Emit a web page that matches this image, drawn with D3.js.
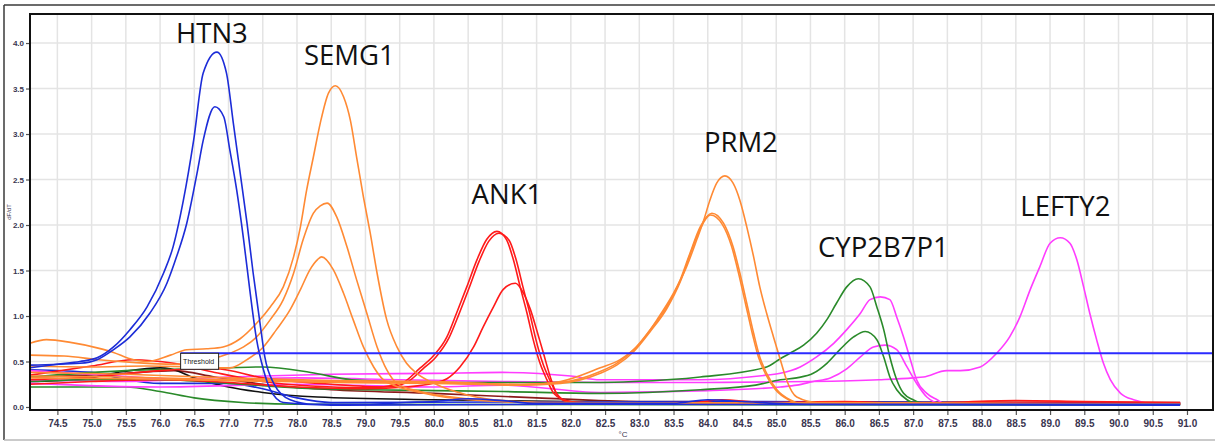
<!DOCTYPE html>
<html>
<head>
<meta charset="utf-8">
<script src="https://cdn.jsdelivr.net/npm/d3@7"></script>
<style>
  html, body { margin: 0; padding: 0; background: #fff; }
  svg { display: block; }
</style>
</head>
<body>
<svg id="chart" width="1215" height="441"></svg>
<script>
// ---- Melt-curve data: temperature (°C) / dF/dT pairs for each well ----
const xTickLabels = ["74.5","75.0","75.5","76.0","76.5","77.0","77.5","78.0","78.5","79.0","79.5","80.0","80.5","81.0","81.5","82.0","82.5","83.0","83.5","84.0","84.5","85.0","85.5","86.0","86.5","87.0","87.5","88.0","88.5","89.0","89.5","90.0","90.5","91.0"];
const yTickLabels = ["0.0","0.5","1.0","1.5","2.0","2.5","3.0","3.5","4.0"];
const thresholdValue = 0.59;

const geneNames = ["HTN3", "SEMG1", "ANK1", "PRM2", "CYP2B7P1", "LEFTY2"];

// HTN3 (blue)
const htn3A = [[74.1,0.43],[74.5,0.47],[74.83,0.50],[75.08,0.54],[75.32,0.66],[75.56,0.85],[75.81,1.10],[76.05,1.47],[76.19,1.76],[76.34,2.27],[76.49,2.93],[76.63,3.67],[76.83,3.90],[76.97,3.67],[77.07,3.12],[77.17,2.57],[77.27,2.02],[77.36,1.47],[77.46,0.92],[77.53,0.55],[77.66,0.26],[77.9,0.08],[78.24,0.03],[79.0,0.03],[79.6,0.05],[80.0,0.06],[80.5,0.09],[81.0,0.07],[81.5,0.04],[83.5,0.04],[84.0,0.08],[84.5,0.06],[85.5,0.03],[90.9,0.03]];
const htn3B = [[74.1,0.46],[74.83,0.48],[75.08,0.52],[75.32,0.63],[75.56,0.77],[75.85,1.03],[76.10,1.36],[76.24,1.65],[76.39,2.02],[76.54,2.57],[76.63,2.93],[76.80,3.30],[76.93,3.19],[77.02,2.82],[77.12,2.38],[77.22,1.84],[77.31,1.29],[77.41,0.74],[77.51,0.41],[77.61,0.19],[77.80,0.05],[78.5,0.02],[82.0,0.03],[90.9,0.02]];

// SEMG1 (orange)
const semg1A = [[74.1,0.70],[74.34,0.74],[74.69,0.71],[75.08,0.65],[75.32,0.60],[75.56,0.53],[75.81,0.50],[76.15,0.57],[76.39,0.63],[76.68,0.64],[76.92,0.66],[77.17,0.75],[77.41,0.92],[77.61,1.10],[77.80,1.32],[77.95,1.65],[78.05,1.98],[78.14,2.38],[78.24,2.75],[78.34,3.12],[78.46,3.45],[78.56,3.53],[78.68,3.41],[78.78,3.15],[78.87,2.75],[78.97,2.31],[79.07,1.91],[79.17,1.47],[79.31,0.96],[79.46,0.66],[79.60,0.48],[79.75,0.37],[80.0,0.26],[80.5,0.13],[81.0,0.07],[82.0,0.04],[90.9,0.03]];
const semg1B = [[74.1,0.57],[74.6,0.56],[75.1,0.52],[75.6,0.49],[76.2,0.47],[76.7,0.52],[77.02,0.59],[77.22,0.66],[77.41,0.77],[77.61,0.96],[77.80,1.18],[77.95,1.47],[78.09,1.84],[78.24,2.13],[78.34,2.21],[78.44,2.24],[78.58,2.09],[78.73,1.76],[78.87,1.40],[79.02,1.03],[79.17,0.66],[79.31,0.41],[79.46,0.26],[79.8,0.17],[80.5,0.09],[81.5,0.05],[90.9,0.03]];
const semg1C = [[74.1,0.45],[75.0,0.44],[75.8,0.45],[76.5,0.44],[77.02,0.43],[77.27,0.52],[77.51,0.66],[77.70,0.85],[77.90,1.07],[78.05,1.29],[78.19,1.51],[78.30,1.62],[78.36,1.65],[78.53,1.51],[78.68,1.25],[78.82,0.96],[78.97,0.66],[79.12,0.44],[79.26,0.30],[79.41,0.24],[79.8,0.16],[80.5,0.08],[81.5,0.05],[90.9,0.03]];

// ANK1 (red)
const ank1A = [[74.1,0.35],[75.0,0.45],[75.6,0.52],[76.2,0.48],[76.8,0.38],[77.5,0.28],[78.2,0.23],[79.0,0.21],[79.5,0.25],[79.80,0.43],[79.99,0.56],[80.19,0.77],[80.33,1.03],[80.48,1.32],[80.63,1.62],[80.77,1.84],[80.92,1.93],[81.06,1.84],[81.16,1.62],[81.26,1.32],[81.36,1.03],[81.45,0.74],[81.55,0.48],[81.65,0.30],[81.75,0.15],[81.89,0.08],[82.14,0.04],[83.8,0.05],[84.2,0.08],[84.8,0.05],[86.0,0.06],[87.0,0.04],[88.5,0.07],[89.5,0.06],[90.9,0.05]];
const ank1B = [[74.1,0.30],[75.0,0.33],[76.0,0.40],[76.8,0.42],[77.5,0.32],[78.5,0.25],[79.3,0.22],[79.6,0.27],[79.84,0.42],[80.03,0.55],[80.22,0.76],[80.36,1.01],[80.51,1.30],[80.66,1.60],[80.80,1.82],[80.95,1.91],[81.10,1.83],[81.20,1.62],[81.30,1.32],[81.40,1.03],[81.49,0.74],[81.59,0.48],[81.69,0.30],[81.79,0.15],[81.93,0.07],[82.2,0.04],[90.9,0.04]];
const ank1C = [[74.1,0.25],[75.0,0.28],[76.0,0.30],[77.0,0.27],[78.0,0.22],[79.0,0.20],[79.6,0.22],[79.99,0.26],[80.19,0.31],[80.38,0.44],[80.58,0.66],[80.72,0.88],[80.87,1.10],[81.01,1.29],[81.19,1.36],[81.31,1.25],[81.41,1.07],[81.50,0.85],[81.60,0.59],[81.70,0.33],[81.79,0.15],[81.94,0.06],[82.5,0.04],[90.9,0.04]];

// PRM2 (orange)
const prm2A = [[74.1,0.38],[75.5,0.36],[77.0,0.32],[78.5,0.29],[80.0,0.28],[80.4,0.27],[81.26,0.24],[81.85,0.28],[82.43,0.43],[82.72,0.52],[83.01,0.70],[83.26,0.96],[83.50,1.25],[83.69,1.54],[83.84,1.84],[83.94,2.05],[84.03,2.27],[84.13,2.46],[84.25,2.54],[84.37,2.46],[84.47,2.27],[84.57,1.98],[84.67,1.65],[84.76,1.32],[84.86,1.03],[84.96,0.77],[85.06,0.52],[85.15,0.30],[85.30,0.11],[85.6,0.05],[90.9,0.03]];
const prm2B = [[74.1,0.34],[75.5,0.33],[77.0,0.30],[78.5,0.28],[80.0,0.27],[81.26,0.25],[81.85,0.27],[82.43,0.39],[82.67,0.48],[82.92,0.63],[83.16,0.85],[83.40,1.10],[83.60,1.40],[83.74,1.69],[83.89,1.98],[84.06,2.13],[84.23,2.02],[84.37,1.76],[84.47,1.47],[84.57,1.14],[84.67,0.81],[84.76,0.55],[84.86,0.37],[85.01,0.19],[85.20,0.08],[85.35,0.04],[90.9,0.03]];
const prm2C = [[74.1,0.32],[75.5,0.31],[77.0,0.29],[78.5,0.27],[80.0,0.26],[81.26,0.24],[81.85,0.26],[82.43,0.37],[82.67,0.46],[82.92,0.61],[83.16,0.83],[83.40,1.08],[83.60,1.38],[83.74,1.67],[83.89,1.96],[84.04,2.11],[84.21,2.01],[84.35,1.76],[84.45,1.47],[84.55,1.14],[84.65,0.81],[84.74,0.55],[84.84,0.37],[84.99,0.19],[85.18,0.08],[85.33,0.04],[90.9,0.03]];

// CYP2B7P1 (green and magenta)
const cypGreenA = [[74.1,0.33],[75.5,0.40],[76.5,0.42],[77.5,0.44],[78.2,0.38],[78.8,0.30],[80.0,0.27],[81.0,0.27],[82.43,0.27],[82.92,0.28],[83.89,0.33],[84.86,0.44],[85.06,0.53],[85.20,0.59],[85.40,0.68],[85.59,0.81],[85.74,0.96],[85.88,1.14],[86.03,1.32],[86.20,1.41],[86.37,1.32],[86.47,1.10],[86.57,0.85],[86.66,0.55],[86.76,0.30],[86.86,0.15],[87.0,0.08],[87.15,0.04],[90.9,0.03]];
const cypGreenB = [[74.1,0.28],[75.0,0.30],[76.0,0.30],[77.0,0.26],[78.0,0.21],[79.0,0.19],[80.0,0.18],[81.0,0.17],[82.43,0.15],[83.89,0.19],[84.7,0.24],[85.06,0.30],[85.30,0.32],[85.54,0.37],[85.74,0.48],[85.93,0.63],[86.13,0.77],[86.30,0.83],[86.47,0.74],[86.57,0.55],[86.66,0.33],[86.76,0.19],[86.91,0.08],[87.05,0.04],[90.9,0.03]];
const cypMagentaA = [[74.1,0.30],[75.5,0.28],[77.0,0.33],[78.5,0.36],[80.0,0.37],[81.0,0.38],[82.0,0.34],[82.43,0.30],[83.89,0.30],[84.86,0.35],[85.06,0.37],[85.35,0.44],[85.59,0.55],[85.84,0.70],[86.03,0.85],[86.23,1.03],[86.37,1.18],[86.52,1.21],[86.66,1.18],[86.76,0.99],[86.86,0.77],[86.96,0.52],[87.05,0.30],[87.20,0.15],[87.35,0.08],[87.45,0.04],[90.9,0.03]];
const cypMagentaB = [[74.1,0.26],[76.0,0.22],[78.0,0.25],[80.0,0.22],[81.0,0.24],[82.43,0.16],[84.0,0.18],[85.06,0.22],[85.30,0.24],[85.54,0.28],[85.79,0.32],[86.03,0.42],[86.23,0.55],[86.42,0.66],[86.59,0.68],[86.76,0.63],[86.91,0.44],[87.05,0.26],[87.20,0.11],[87.40,0.04],[90.9,0.03]];

// LEFTY2 (magenta)
const lefty2 = [[74.1,0.40],[75.0,0.36],[76.5,0.30],[78.0,0.32],[79.5,0.30],[81.0,0.28],[82.5,0.27],[84.0,0.27],[85.5,0.28],[86.5,0.30],[87.0,0.32],[87.15,0.33],[87.49,0.40],[87.69,0.40],[87.98,0.44],[88.22,0.59],[88.41,0.77],[88.56,0.99],[88.71,1.29],[88.85,1.54],[89.0,1.80],[89.15,1.86],[89.29,1.80],[89.39,1.62],[89.49,1.32],[89.58,1.03],[89.68,0.74],[89.78,0.48],[89.88,0.30],[90.03,0.15],[90.22,0.08],[90.51,0.04],[90.9,0.04]];

// No-template / background wells
const ntcBlack = [[74.1,0.28],[74.8,0.30],[75.46,0.39],[76.0,0.43],[76.15,0.42],[76.5,0.32],[77.0,0.22],[77.5,0.16],[78.3,0.11],[80.0,0.08],[82.0,0.06],[86.0,0.05],[90.9,0.04]];
const ntcBrown = [[74.1,0.33],[75.5,0.37],[76.2,0.40],[76.8,0.33],[77.5,0.25],[78.5,0.19],[80.0,0.15],[81.5,0.10],[83.0,0.06],[90.9,0.05]];
const ntcGreen = [[74.1,0.22],[75.5,0.22],[76.0,0.17],[76.5,0.10],[77.2,0.05],[78.0,0.03],[90.9,0.02]];
const ntcBlue = [[74.1,0.41],[75.0,0.38],[75.5,0.30],[76.0,0.26],[77.0,0.26],[77.5,0.20],[78.0,0.10],[78.5,0.05],[84.0,0.06],[90.9,0.04]];

// Wells grouped by dye colour, drawn back to front
const seriesList = [
  { data: ntcGreen,    color: "#2a8a2a" },
  { data: ntcBrown,    color: "#8b1a1a" },
  { data: ntcBlack,    color: "#111111" },
  { data: ntcBlue,     color: "#1c2cd8" },
  { data: cypMagentaB, color: "#ff3cff" },
  { data: cypMagentaA, color: "#ff3cff" },
  { data: lefty2,      color: "#ff3cff" },
  { data: cypGreenB,   color: "#2a8a2a" },
  { data: cypGreenA,   color: "#2a8a2a" },
  { data: ank1C,       color: "#ff1a1a" },
  { data: ank1B,       color: "#ff1a1a" },
  { data: ank1A,       color: "#ff1a1a" },
  { data: prm2C,       color: "#ff8a34" },
  { data: prm2B,       color: "#ff8a34" },
  { data: prm2A,       color: "#ff8a34" },
  { data: semg1C,      color: "#ff8a34" },
  { data: semg1B,      color: "#ff8a34" },
  { data: semg1A,      color: "#ff8a34" },
  { data: htn3B,       color: "#1c2cd8" },
  { data: htn3A,       color: "#1c2cd8" }
];

// Gene labels anchored at the peak temperature / height of their tallest well
const geneLabelAnchors = [
  { name: geneNames[0], t: 76.83, v: 3.90 },
  { name: geneNames[1], t: 78.56, v: 3.53 },
  { name: geneNames[2], t: 80.92, v: 1.93 },
  { name: geneNames[3], t: 84.25, v: 2.54 },
  { name: geneNames[4], t: 86.20, v: 1.41 },
  { name: geneNames[5], t: 89.15, v: 1.86 }
];
const labelLift = [9, 21, 27, 24, 22, 22];
const labelShift = [-5, 14, 10, 16, 25, 5];

// ---- Layout ----
const svg = d3.select("#chart");
const plot = { left: 30, right: 1213, top: 14, bottom: 410 };

const x = d3.scaleLinear().domain([74.1, 91.38]).range([plot.left, plot.right]);
const y = d3.scaleLinear().domain([-0.033, 4.319]).range([plot.bottom, plot.top]);

// outer frame
svg.append("line").attr("x1", 4).attr("x2", 1215).attr("y1", 5).attr("y2", 5)
  .attr("stroke", "#3a3a3a").attr("stroke-width", 1.5);
svg.append("line").attr("x1", 4).attr("x2", 4).attr("y1", 5).attr("y2", 440)
  .attr("stroke", "#3a3a3a").attr("stroke-width", 1.5);
svg.append("line").attr("x1", 4).attr("x2", 1215).attr("y1", 440).attr("y2", 440)
  .attr("stroke", "#b8b8b8").attr("stroke-width", 1.5);

// grid
const xTickVals = xTickLabels.map(Number);
const yTickVals = yTickLabels.map(Number);
const grid = svg.append("g").attr("stroke", "#e4e4e4").attr("stroke-width", 1.5);
grid.selectAll(".gx").data(xTickVals).join("line")
  .attr("x1", d => x(d)).attr("x2", d => x(d))
  .attr("y1", plot.top).attr("y2", plot.bottom);
grid.selectAll(".gy").data(yTickVals.filter(d => d > 0)).join("line")
  .attr("x1", plot.left).attr("x2", plot.right)
  .attr("y1", d => y(d)).attr("y2", d => y(d));

// curves
const line = d3.line()
  .x(d => x(d[0]))
  .y(d => y(d[1]))
  .curve(d3.curveMonotoneX);

const curves = svg.append("g").attr("fill", "none").attr("stroke-width", 1.6)
  .attr("stroke-linejoin", "round");
curves.selectAll("path").data(seriesList).join("path")
  .attr("d", d => line(d.data))
  .attr("stroke", d => d.color);

// threshold line and its tag
const tagLeft = x(76.3);
svg.append("line")
  .attr("x1", tagLeft).attr("x2", plot.right)
  .attr("y1", y(thresholdValue)).attr("y2", y(thresholdValue))
  .attr("stroke", "#2b2bff").attr("stroke-width", 2);
const tag = svg.append("g").attr("transform", `translate(${tagLeft},${y(thresholdValue)})`);
tag.append("rect").attr("x", 0).attr("y", 0).attr("width", 38).attr("height", 16)
  .attr("fill", "#fff").attr("stroke", "#222").attr("stroke-width", 1);
tag.append("text").attr("x", 2.5).attr("y", 11)
  .attr("font-family", "'Liberation Sans Narrow', 'Liberation Sans', sans-serif")
  .attr("font-size", 7).attr("fill", "#222").text("Threshold");

// axes
const tickFont = "'Liberation Sans Narrow', 'Liberation Sans', sans-serif";
const xAxis = d3.axisBottom(x).tickValues(xTickVals)
  .tickFormat((d, i) => xTickLabels[i]).tickSize(5).tickPadding(5);
const gx = svg.append("g").attr("transform", `translate(0,${plot.bottom})`).call(xAxis);
gx.select(".domain").remove();
gx.selectAll(".tick line").attr("stroke", "#555").attr("stroke-width", 1.2);
gx.selectAll(".tick text").attr("font-family", tickFont).attr("font-size", 10)
  .attr("font-weight", "bold").attr("fill", "#3a3550");

const yAxis = d3.axisLeft(y).tickValues(yTickVals)
  .tickFormat((d, i) => yTickLabels[i]).tickSize(4).tickPadding(2);
const gy = svg.append("g").attr("transform", `translate(${plot.left},0)`).call(yAxis);
gy.select(".domain").remove();
gy.selectAll(".tick line").attr("stroke", "#555").attr("stroke-width", 1.2);
gy.selectAll(".tick text").attr("font-family", tickFont).attr("font-size", 8)
  .attr("font-weight", "bold").attr("fill", "#3a3550");

// plot box
svg.append("rect")
  .attr("x", plot.left).attr("y", plot.top)
  .attr("width", plot.right - plot.left).attr("height", plot.bottom - plot.top)
  .attr("fill", "none").attr("stroke", "#111").attr("stroke-width", 2);

// axis titles
svg.append("text").attr("x", 623).attr("y", 437).attr("text-anchor", "middle")
  .attr("font-family", tickFont).attr("font-size", 8).attr("fill", "#3a3550").text("°C");
svg.append("text").attr("transform", "translate(11,212) rotate(-90)")
  .attr("text-anchor", "middle").attr("font-family", tickFont).attr("font-size", 6)
  .attr("fill", "#3a3550").text("dF/dT");

// gene labels
svg.append("g").selectAll("text").data(geneLabelAnchors).join("text")
  .attr("x", (d, i) => x(d.t) + labelShift[i])
  .attr("y", (d, i) => y(d.v) - labelLift[i])
  .attr("text-anchor", "middle")
  .attr("font-family", "'Open Sans', sans-serif")
  .attr("font-size", 27.5)
  .attr("fill", "#111")
  .text(d => d.name);
</script>
</body>
</html>
